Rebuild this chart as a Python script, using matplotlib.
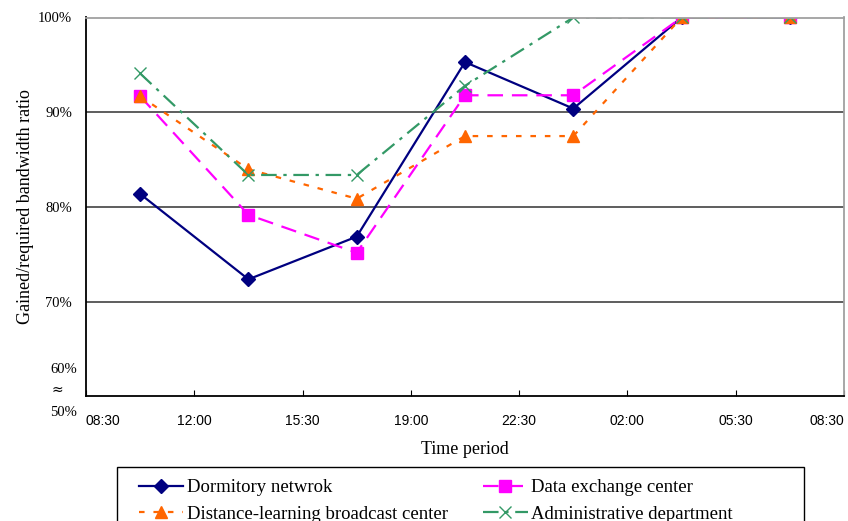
import matplotlib
matplotlib.use("Agg")
import matplotlib.pyplot as plt
from matplotlib.patches import Rectangle

tick_labels = ["08:30", "12:00", "15:30", "19:00", "22:30", "02:00", "05:30", "08:30"]
periods = [0.5, 1.5, 2.5, 3.5, 4.5, 5.5, 6.5]

dormitory = [81.4, 72.4, 76.9, 95.3, 90.4, 100, 100]
data_exchange = [91.7, 79.2, 75.2, 91.8, 91.8, 100, 100]
distance_learning = [91.7, 84.0, 80.9, 87.5, 87.5, 100, 100]
administrative = [94.1, 83.4, 83.4, 92.8, 100, 100, 100]

names = ["Dormitory netwrok", "Data exchange center",
         "Distance-learning broadcast center", "Administrative department"]

serif = "Liberation Serif"
sans = "Liberation Sans"

W, H = 848, 521
fig = plt.figure(figsize=(W / 100, H / 100), dpi=100)
ax = fig.add_axes([86 / W, (H - 396) / H, (844 - 86) / W, (396 - 17.5) / H])

l1, = ax.plot(periods, dormitory, color="#000080", lw=1.6, marker="D", ms=7,
              label=names[0])
l2, = ax.plot(periods, data_exchange, color="#FF00FF", lw=1.6, marker="s", ms=8.5,
              dashes=(7, 4), label=names[1])
l3, = ax.plot(periods, distance_learning, color="#FF6600", lw=1.6, marker="^", ms=9,
              dashes=(2.5, 4), label=names[2])
l4, = ax.plot(periods, administrative, color="#339966", lw=1.6, marker="x", ms=8,
              mew=1.0, dashes=(7, 3, 1.5, 3), label=names[3])

ax.set_xlim(0, 7)
ax.set_ylim(60.1, 100)
ax.set_xticks(range(8))
xlabels = ax.set_xticklabels(tick_labels, family=sans, fontsize=10)
xlabels[0].set_horizontalalignment("left")
xlabels[-1].set_horizontalalignment("right")
ax.tick_params(axis="x", direction="in", length=4, pad=13, color="black")

ax.set_yticks([70, 80, 90, 100])
ax.set_yticklabels(["70%", "80%", "90%", "100%"], family=serif, fontsize=10.5)
ax.tick_params(axis="y", length=0, pad=10)
ytr = ax.get_yaxis_transform()
ax.text(-0.012, 62.9, "60%", transform=ytr, ha="right", va="center",
        family=serif, fontsize=10.5)
ax.text(-0.038, 60.7, "≈", transform=ytr, ha="center", va="center",
        family="DejaVu Sans", fontsize=10)
ax.text(-0.012, 58.4, "50%", transform=ytr, ha="right", va="center",
        family=serif, fontsize=10.5, clip_on=False)

for v in [70, 80, 90]:
    ax.axhline(v, color="#505050", lw=1.3, zorder=0)

ax.spines["left"].set_color("black")
ax.spines["bottom"].set_color("black")
ax.spines["top"].set_color("#A0A0A0")
ax.spines["right"].set_color("#A0A0A0")
for s in ax.spines.values():
    s.set_linewidth(1.3)

ax.set_xlabel("Time period", family=serif, fontsize=13, labelpad=9)
ax.set_ylabel("Gained/required bandwidth ratio", family=serif, fontsize=13, labelpad=3)

# legend frame (extends past the bottom edge like the reference)
fig.patches.append(Rectangle((117 / W, (H - 560) / H), (804 - 117) / W, (560 - 467) / H,
                             transform=fig.transFigure, fill=False,
                             edgecolor="black", lw=1.0))
leg = fig.legend(handles=[l1, l3, l2, l4], ncol=2,
                 loc="upper left",
                 bbox_to_anchor=(139 / W, (H - 479) / H),
                 frameon=False,
                 prop={"family": serif, "size": 13.5},
                 handlelength=2.35, handletextpad=0.2, borderpad=0,
                 labelspacing=0.5, columnspacing=1.9, borderaxespad=0)

fig.savefig("out.png", dpi=100)
